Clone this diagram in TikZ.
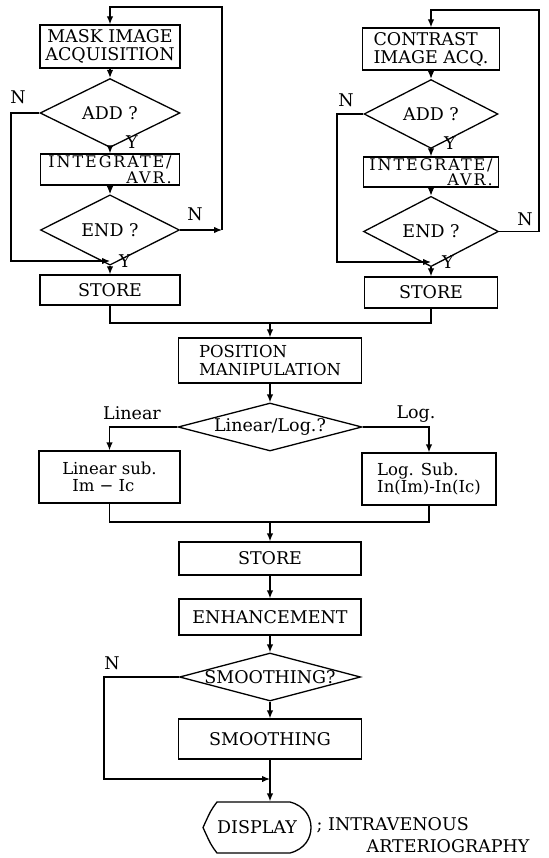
\documentclass[tikz,border=0pt]{standalone}
\usepackage{fontspec}
\setmainfont{DejaVu Serif}
\newfontfamily\lsfont[LetterSpace=12]{DejaVu Serif}
\usetikzlibrary{shapes.geometric,arrows.meta}
\begin{document}
\begin{tikzpicture}[x=1pt,y=-1pt,line width=1.3pt,
  every node/.style={font=\fontsize{17.5}{18}\selectfont},
  box/.style={draw, rectangle, inner sep=0pt, align=center},
  dia/.style={draw, diamond, inner sep=0pt},
  lbl/.style={inner sep=0pt},
  intf/.style={font=\lsfont\fontsize{16}{15.5}\selectfont},
  arr/.style={-{Latex[length=8pt,width=6.5pt]}}]
\useasboundingbox (0,0) rectangle (548,858);

% ---------- left column ----------
\node[box, minimum width=140pt, minimum height=43pt] (mask) at (110,46.5) {MASK IMAGE\\ACQUISITION};
\node[dia, minimum width=140pt, minimum height=40pt] (add1) at (110,113) {ADD ?};
\node[box, minimum width=139pt, minimum height=31pt, align=right, intf] (int1) at (110,169.5) {INTEGRATE/\\AVR.};
\node[dia, minimum width=139pt, minimum height=40pt] (end1) at (110,230) {END ?};
\node[box, minimum width=140pt, minimum height=30pt] (store1) at (110,290) {STORE};

\coordinate (l1) at (222,230);
\coordinate (l2) at (110,7);
\coordinate (l3) at (110,261);
\draw[arr] (mask) -- (add1);
\draw[arr] (add1) -- (int1);
\draw[arr] (int1) -- (end1);
\draw[arr] (end1) -- (store1);
\draw[arr] (end1.east) -- (l1);
\draw[arr] (l1) |- (l2) -- (mask.north);
\draw[arr] (add1.west) -- (11,113) |- (l3);

\node[lbl] (n1) at (18,97) {N};
\node[lbl] (y1) at (132,142) {Y};
\node[lbl] (n2) at (195,214) {N};
\node[lbl] (y2) at (125,261) {Y};

% ---------- right column ----------
\node[box, minimum width=137pt, minimum height=42pt, align=left] (con) at (431,49) {CONTRAST\\IMAGE ACQ.};
\node[dia, minimum width=134pt, minimum height=40pt] (add2) at (431,114) {ADD ?};
\node[box, minimum width=135pt, minimum height=30pt, align=right, intf] (int2) at (431,172) {INTEGRATE/\\AVR.};
\node[dia, minimum width=135pt, minimum height=40pt] (end2) at (431,231.5) {END ?};
\node[box, minimum width=133pt, minimum height=31pt] (store2) at (431,292.5) {STORE};

\coordinate (r2) at (431,10);
\coordinate (r3) at (431,262);
\draw[arr] (con) -- (add2);
\draw[arr] (add2) -- (int2);
\draw[arr] (int2) -- (end2);
\draw[arr] (end2) -- (store2);
\draw[arr] (end2.east) -- (539,231.5) |- (r2) -- (con.north);
\draw[arr] (add2.west) -- (337,114) |- (r3);

\node[lbl] (n3) at (346,100) {N};
\node[lbl] (y3) at (450,143) {Y};
\node[lbl] (n4) at (525,219) {N};
\node[lbl] (y4) at (448,262) {Y};

% ---------- middle ----------
\coordinate (j1) at (270,323);
\node[box, minimum width=183pt, minimum height=45pt, align=left, font=\fontsize{16.5}{18}\selectfont] (pos) at (270,360.5) {POSITION\\MANIPULATION};
\node[dia, minimum width=184pt, minimum height=48pt, label={center:Linear/Log.?}] (ll) at (270,427) {};
\node[box, minimum width=141pt, minimum height=52pt, align=left, font=\fontsize{16.5}{17}\selectfont] (lin) at (109.5,477) {Linear sub.\\\hspace*{10pt}Im − Ic};
\node[box, minimum width=134pt, minimum height=52pt, align=left, font=\fontsize{16.5}{17}\selectfont] (log) at (429,479) {Log. Sub.\\In(Im)-In(Ic)};

\draw (store1.south) |- (j1) -| (store2.south);
\draw[arr] (j1) -- (pos);
\draw[arr] (pos) -- (ll);
\draw[arr] (ll.west) -| (lin.north);
\draw[arr] (ll.east) -| (log.north);
\node[lbl] (tlin) at (132,413) {Linear};
\node[lbl] (tlog) at (416,414) {Log.};

\coordinate (j2) at (270,522);
\node[box, minimum width=182pt, minimum height=33pt] (store3) at (270,558.5) {STORE};
\node[box, minimum width=182pt, minimum height=36pt] (enh) at (270,617) {ENHANCEMENT};
\node[dia, minimum width=181pt, minimum height=48pt, label={center:SMOOTHING?}] (smd) at (270,677) {};
\node[box, minimum width=183pt, minimum height=40pt] (smo) at (270,739) {SMOOTHING};
\node[lbl, minimum width=107pt, minimum height=51pt] (disp) at (257,827.5) {DISPLAY};

\draw (lin.south) |- (j2) -| (log.south);
\draw[arr] (j2) -- (store3);
\draw[arr] (store3) -- (enh);
\draw[arr] (enh) -- (smd);
\draw[arr] (smd) -- (smo);
\coordinate (j3) at (270,779);
\draw[arr] (smd.west) -- (104,677) |- (j3);
\draw[arr] (smo.south) -- (smo.south |- disp.north);
\node[lbl] (n5) at (112,663) {N};

% display symbol
\draw (217,802) -- (290,802) .. controls (305,806) and (311,817) .. (311,827.5)
  .. controls (311,838) and (305,849) .. (290,853) -- (217,853)
  .. controls (211,845) .. (203,827.5) .. controls (211,810) .. (217,802) -- cycle;

\node[lbl, anchor=base west, align=left, font=\fontsize{17.5}{22.5}\selectfont] (note) at (316,852.5) {; INTRAVENOUS\\\hspace*{50pt}ARTERIOGRAPHY};
\end{tikzpicture}
\end{document}
